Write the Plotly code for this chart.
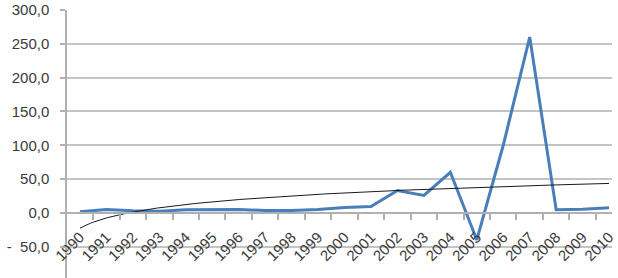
import numpy as np
import plotly.graph_objects as go

years = [str(y) for y in range(1990, 2011)]
values = [1.5, 5.0, 3.0, 2.5, 4.5, 4.5, 5.0, 3.5, 3.5, 5.0, 8.0, 9.5,
          33.0, 25.7, 60.0, -40.0, 100.0, 260.0, 4.5, 5.5, 7.5]

y_tickvals = [300, 250, 200, 150, 100, 50, 0, -50]
y_ticktext = ["300,0", "250,0", "200,0", "150,0", "100,0", "50,0", "0,0",
              "-\u00a0\u00a050,0"]

# logarithmic trend line (least squares on ln(x)), as in the spreadsheet
xi = np.arange(1, len(values) + 1)
a, b = np.polyfit(np.log(xi), np.array(values), 1)
xt = np.linspace(1, len(values), 300)
yt = a * np.log(xt) + b

YMIN, YMAX = -96.3, 300
XR = [-0.49, 20.11]
font = dict(family="Liberation Sans, Arial, sans-serif", size=15, color="#3a3a3a")

fig = go.Figure()
fig.add_trace(go.Scatter(x=years, y=values, mode="lines",
                         line=dict(color="#4a7ebb", width=3), showlegend=False,
                         hoverinfo="skip"))
fig.add_trace(go.Scatter(x=xt - 1, y=yt, mode="lines", xaxis="x2",
                         line=dict(color="#1a1a1a", width=1), showlegend=False,
                         hoverinfo="skip"))

pos0 = (0 - YMIN) / (YMAX - YMIN)
fig.update_layout(
    width=618, height=278,
    margin=dict(l=67, r=6, t=10, b=0),
    paper_bgcolor="white", plot_bgcolor="white",
    font=font,
    xaxis=dict(type="category", range=XR, anchor="free", position=pos0,
               showgrid=False, showline=True, linecolor="#b0b0b0", linewidth=1.5,
               ticks="outside", tickson="boundaries", ticklen=6,
               tickcolor="#b0b0b0", tickwidth=1.5, tickangle=-45,
               tickfont=font, zeroline=False, ticklabelstandoff=9),
    xaxis2=dict(range=XR, overlaying="x", visible=False),
    yaxis=dict(range=[YMIN, YMAX], tickvals=y_tickvals, ticktext=y_ticktext,
               showgrid=True, gridcolor="#c4c4c4", gridwidth=1.5,
               showline=True, linecolor="#b0b0b0", linewidth=1.5,
               ticks="outside", ticklen=5, tickcolor="#b0b0b0", tickwidth=1.5,
               zeroline=False, tickfont=font, ticklabelstandoff=8),
)

fig.write_html("out.html")
